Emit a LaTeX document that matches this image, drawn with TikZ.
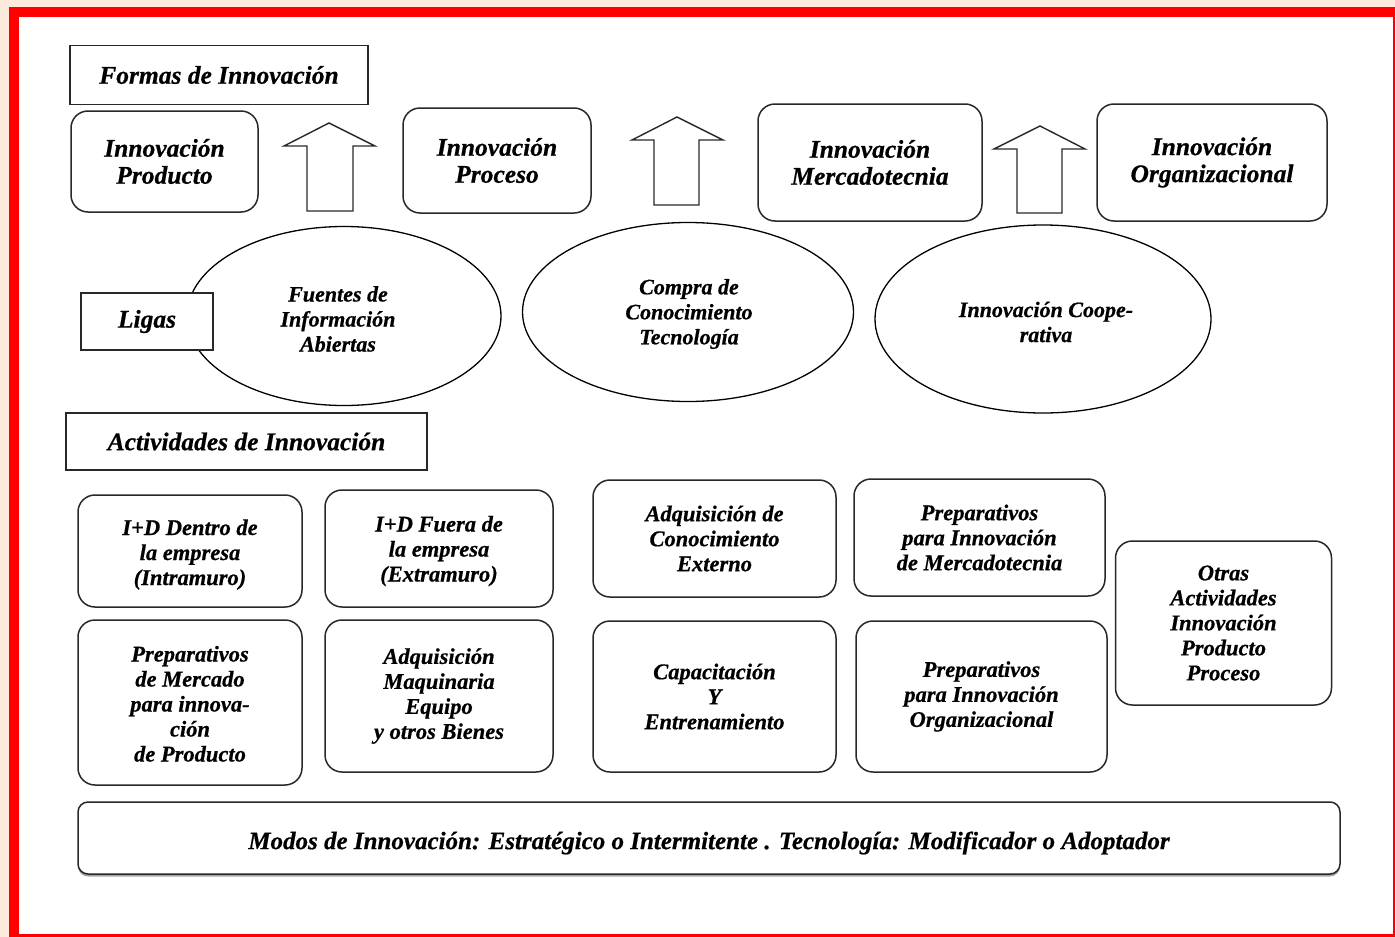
\documentclass[tikz,border=0pt]{standalone}
\usepackage{fontspec}
\setmainfont{Liberation Serif}
\newfontfamily\bifont{Liberation Serif Bold Italic}[FakeBold=0.6]
\usetikzlibrary{shapes.geometric,shadows}
\definecolor{peach}{RGB}{252,234,220}
\definecolor{framered}{RGB}{255,0,0}
\definecolor{linegray}{RGB}{40,40,40}
\newcommand{\lowertext}[2]{\raisebox{-#1}[\height][\depth]{\begin{tabular}{@{}c@{}}#2\end{tabular}}}
\begin{document}
\begin{tikzpicture}[x=1pt,y=-1pt,
  txt/.style={align=center,inner sep=0pt,text=black},
  bigfont/.style={font=\bifont\fontsize{25.5}{27}\selectfont},
  midfont/.style={font=\bifont\fontsize{22.5}{25}\selectfont},
  ellfont/.style={font=\bifont\fontsize{22}{25}\selectfont},
  barfont/.style={font=\bifont\fontsize{25}{27}\selectfont},
  rbox/.style={txt,draw=linegray,line width=1.5pt,rounded corners=17pt,fill=white},
  sbox/.style={txt,draw=linegray,line width=1.5pt,fill=white},
  ell/.style={txt,ellipse,draw=black,line width=1.3pt,fill=white},
  blockarrow/.style={draw=linegray,line width=1.4pt,fill=white,line join=miter}
]
\useasboundingbox (0,0) rectangle (1395,937);
% frame
\fill[peach] (0,0) rectangle (1395,937);
\fill[framered] (9,7) rectangle (1395,937);
\fill[white] (19,17) rectangle (1393,934);

% top row
\node[sbox,bigfont,minimum width=298pt,minimum height=59pt] (formas) at (219,75) {Formas de Innovación};
\node[rbox,bigfont,minimum width=187pt,minimum height=101pt] (iprod) at (164.5,161.5) {Innovación\\Producto};
\node[rbox,bigfont,minimum width=188pt,minimum height=105pt] (iproc) at (497,160.5) {Innovación\\Proceso};
\node[rbox,bigfont,minimum width=224pt,minimum height=117pt] (imerc) at (870,162.5) {Innovación\\Mercadotecnia};
\node[rbox,bigfont,minimum width=230pt,minimum height=117pt] (iorg) at (1212,162.5) {Innovación\\Organizacional};

% block arrows
\draw[blockarrow] (307,211) -- (307,146) -- (284,146) -- (329,123) -- (375,146) -- (353,146) -- (353,211) -- cycle;
\draw[blockarrow] (654,205) -- (654,140) -- (632,140) -- (677,117) -- (723,140) -- (699,140) -- (699,205) -- cycle;
\draw[blockarrow] (1017,213) -- (1017,149) -- (994,149) -- (1040,126) -- (1085,149) -- (1062,149) -- (1062,213) -- cycle;

% ellipses
\node[ell,minimum width=314pt,minimum height=179pt] (e1) at (344,316) {};
\node[ell,minimum width=331pt,minimum height=179pt] (e2) at (688,312) {};
\node[ell,minimum width=336pt,minimum height=188pt] (e3) at (1043,319) {};
\node[txt,ellfont] (t1) at (338,319) {Fuentes de\\Información\\Abiertas};
\node[txt,ellfont] (t2) at (689,314) {Compra de\\Conocimiento\\Tecnología};
\node[txt,ellfont] (t3) at (1046,322) {Innovación Coope-\\rativa};

\node[sbox,bigfont,minimum width=132pt,minimum height=57pt] (ligas) at (147,321.5) {Ligas};

\node[sbox,bigfont,minimum width=361pt,minimum height=57pt] (activ) at (246.5,441.5) {Actividades de Innovación};

% activities grid
\node[rbox,midfont,minimum width=224pt,minimum height=112pt] (a1) at (190,551) {\lowertext{4pt}{I+D Dentro de\\la empresa\\(Intramuro)}};
\node[rbox,midfont,minimum width=228pt,minimum height=117pt] (a2) at (439,548.5) {\lowertext{3pt}{I+D Fuera de\\la empresa\\(Extramuro)}};
\node[rbox,midfont,minimum width=224pt,minimum height=165pt] (a3) at (190,702.5) {\lowertext{4pt}{Preparativos\\de Mercado\\para innova-\\ción\\de Producto}};
\node[rbox,midfont,minimum width=228pt,minimum height=152pt] (a4) at (439,696) {Adquisición\\Maquinaria\\Equipo\\y otros Bienes};
\node[rbox,midfont,minimum width=243pt,minimum height=117pt] (a5) at (714.5,538.5) {Adquisición de\\Conocimiento\\Externo};
\node[rbox,midfont,minimum width=251pt,minimum height=117pt] (a6) at (979.5,537.5) {Preparativos\\para Innovación\\de Mercadotecnia};
\node[rbox,midfont,minimum width=243pt,minimum height=151pt] (a7) at (714.5,696.5) {Capacitación\\Y\\Entrenamiento};
\node[rbox,midfont,minimum width=251pt,minimum height=151pt] (a8) at (981.5,696.5) {Preparativos\\para Innovación\\Organizacional};
\node[rbox,midfont,minimum width=216pt,minimum height=164pt] (a9) at (1223.5,623) {Otras\\Actividades\\Innovación\\Producto\\Proceso};

% bottom bar
\node[rbox,barfont,rounded corners=10pt,drop shadow={shadow xshift=0pt,shadow yshift=-2.5pt,opacity=0.7},minimum width=1262pt,minimum height=72pt] (modos) at (709,838) {\raisebox{-5pt}[\height][\depth]{Modos de Innovación: Estratégico o Intermitente . Tecnología: Modificador o Adoptador}};
\end{tikzpicture}
\end{document}
